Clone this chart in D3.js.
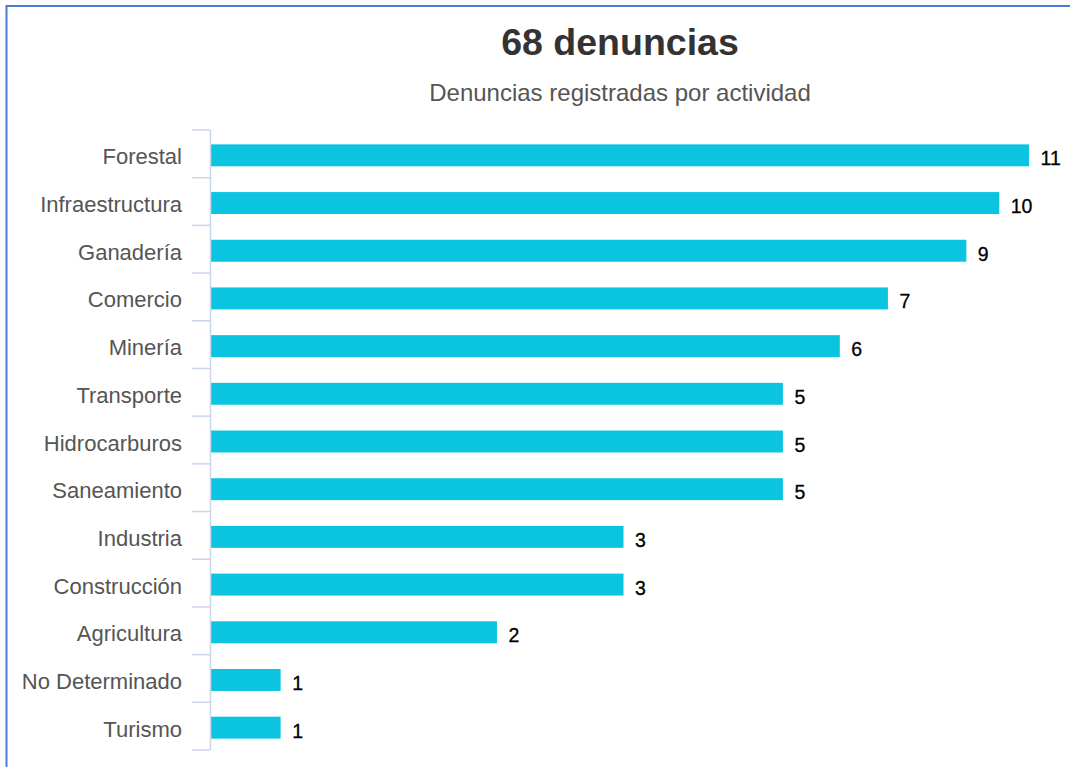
<!DOCTYPE html>
<html>
<head>
<meta charset="utf-8">
<script src="https://cdn.jsdelivr.net/npm/d3@7/dist/d3.min.js"></script>
<style>
  html, body { margin: 0; padding: 0; background: #fff; }
  svg { display: block; font-family: "Liberation Sans", Arial, sans-serif; }
</style>
</head>
<body>
<svg id="chart" width="1070" height="767"></svg>
<script>
const categories = ["Forestal", "Infraestructura", "Ganadería", "Comercio", "Minería", "Transporte",
  "Hidrocarburos", "Saneamiento", "Industria", "Construcción", "Agricultura", "No Determinado", "Turismo"];
const values = [11, 10, 9, 7, 6, 5, 5, 5, 3, 3, 2, 1, 1];
const titleText = "68 denuncias";
const subtitleText = "Denuncias registradas por actividad";

(function () {
const svg = d3.select("#chart");

// outer frame
svg.append("rect")
  .attr("x", 6.5).attr("y", 6)
  .attr("width", 1080).attr("height", 800)
  .attr("fill", "none")
  .attr("stroke", "#4a7bd6")
  .attr("stroke-width", 2);

// titles
svg.append("text")
  .attr("x", 620).attr("y", 55)
  .attr("text-anchor", "middle")
  .attr("font-size", 37.5).attr("font-weight", "bold")
  .attr("fill", "#333333")
  .text(titleText);

svg.append("text")
  .attr("x", 620).attr("y", 101)
  .attr("text-anchor", "middle")
  .attr("font-size", 24)
  .attr("fill", "#555555")
  .text(subtitleText);

const topY = 130, bottomY = 750, axisX = 210;

const y = d3.scaleBand()
  .domain(categories)
  .range([topY, bottomY])
  .paddingInner(0.54)
  .paddingOuter(0.27);

const x = d3.scaleLog()
  .domain([0.8, 11])
  .range([211, 1029]);

const step = y.step();
const g = svg.append("g");

// bars
g.selectAll("rect.bar")
  .data(values)
  .enter().append("rect")
  .attr("class", "bar")
  .attr("x", x(0.8))
  .attr("y", (d, i) => y(categories[i]) + 1.5)
  .attr("width", d => x(d) - x(0.8))
  .attr("height", y.bandwidth())
  .attr("fill", "#0bc5e0");

// value labels
g.selectAll("text.val")
  .data(values)
  .enter().append("text")
  .attr("class", "val")
  .attr("x", d => x(d) + 11.5)
  .attr("y", (d, i) => y(categories[i]) + 1.5 + y.bandwidth() / 2 + 10)
  .attr("font-size", 19.5)
  .attr("fill", "#000000")
  .attr("stroke", "#000000")
  .attr("stroke-width", 0.3)
  .text(d => d);

// category axis (left)
const axis = d3.axisLeft(y).tickSize(0).tickPadding(28);
const ag = svg.append("g")
  .attr("transform", `translate(${axisX},0)`)
  .call(axis);
ag.select(".domain").remove();
ag.selectAll("text")
  .attr("font-size", 22)
  .attr("font-family", "\"Liberation Sans\", Arial, sans-serif")
  .attr("fill", "#555555")
  .attr("dy", null)
  .attr("y", 0)
  .attr("transform", "translate(0, 10.5)");

// axis line
svg.append("line")
  .attr("x1", axisX + 0.5).attr("x2", axisX + 0.5)
  .attr("y1", topY).attr("y2", bottomY)
  .attr("stroke", "#ccd6eb").attr("stroke-width", 1.5);

// boundary ticks
const boundaries = d3.range(categories.length + 1).map(i => topY + i * step);
svg.selectAll("line.tick")
  .data(boundaries)
  .enter().append("line")
  .attr("class", "tick")
  .attr("x1", 192).attr("x2", axisX + 0.5)
  .attr("y1", d => d).attr("y2", d => d)
  .attr("stroke", "#ccd6eb").attr("stroke-width", 1.5);
})();
</script>
</body>
</html>
